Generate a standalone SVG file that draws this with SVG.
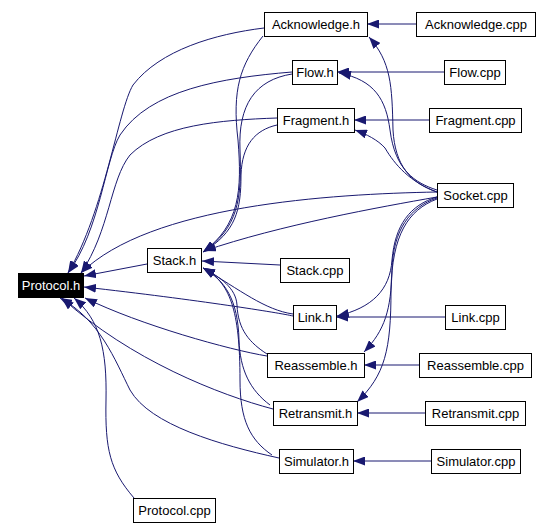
<svg xmlns="http://www.w3.org/2000/svg" width="552" height="528" viewBox="0 0 552 528">
<style>
.n rect{fill:#ffffff;stroke:#000000;stroke-width:1}
.n text{font-family:"Liberation Sans",Arial,sans-serif;font-size:13px;fill:#000000;text-anchor:middle}
#protocol_h rect{fill:#000000}
#protocol_h text{fill:#ffffff}
.e path{fill:none;stroke:#191970;stroke-width:1;marker-end:url(#arr)}
</style>
<defs>
<marker id="arr" markerUnits="userSpaceOnUse" markerWidth="12" markerHeight="9" refX="12" refY="4.5" orient="auto">
<path d="M0,0 L12,4.5 L0,9 z" fill="#191970" stroke="none"/>
</marker>
</defs>
<rect width="552" height="528" fill="#ffffff"/>
<g id="connectors" class="e">
<path d="M416,24 L367,24"/>
<path d="M444,72 L337,72"/>
<path d="M429,120 L354,120"/>
<path d="M445,317 L336,317"/>
<path d="M419,365 L364,365"/>
<path d="M425,413 L357,413"/>
<path d="M431,461 L353,461"/>
<path d="M280,265 L202,261"/>
<path d="M147,264 L84,276"/>
<path d="M264,28 C215,34 160,50 133,85 C118,110 105,210 68,273"/>
<path d="M292,72 C220,78 150,90 120,135 C105,160 100,230 68,273"/>
<path d="M277,118 C220,120 160,125 130,155 C110,180 110,230 81,273"/>
<path d="M437,192 C330,194 150,205 81,273"/>
<path d="M293,316 C280,313 200,300 84,287"/>
<path d="M267,356 C230,350 140,325 85,298"/>
<path d="M273,409 C220,395 130,360 62,298"/>
<path d="M279,458 C220,445 150,425 130,390 C115,360 100,320 60,298"/>
<path d="M134,498 C110,470 105,450 106,400 C107,350 100,320 74,298"/>
<path d="M263,36 C240,65 232,90 238,140 C242,190 240,225 203,252"/>
<path d="M292,74 C255,80 238,105 240,150 C242,200 238,228 203,252"/>
<path d="M277,125 C255,130 242,145 241,175 C241,210 236,232 203,252"/>
<path d="M437,197 C380,207 280,225 204,251"/>
<path d="M293,314 C265,310 240,290 203,268"/>
<path d="M267,354 C250,343 238,330 237,305 C236,288 220,277 203,268"/>
<path d="M270,405 C250,390 240,370 239,340 C238,300 225,280 203,268"/>
<path d="M272,455 C250,440 240,420 240,380 C240,310 230,282 203,268"/>
<path d="M437,192 C410,183 395,165 393,130 C392,85 391,62 369,37"/>
<path d="M437,190 C415,183 395,170 390,130 C386,100 375,80 339,73"/>
<path d="M437,192 C410,182 395,165 385,148 C378,140 366,134 355,130"/>
<path d="M437,197 C410,205 395,225 392,260 C390,290 372,308 337,316"/>
<path d="M437,198 C410,207 393,230 392,270 C391,310 385,330 364,352"/>
<path d="M437,199 C408,210 392,235 391,290 C391,350 385,375 357,402"/>
</g>
<g id="protocol_h" class="n"><rect x="18.5" y="273.5" width="65" height="24"/><text x="51" y="290">Protocol.h</text></g>
<g id="acknowledge_h" class="n"><rect x="264.5" y="12.5" width="103" height="24"/><text x="316" y="29">Acknowledge.h</text></g>
<g id="acknowledge_cpp" class="n"><rect x="416.5" y="12.5" width="119" height="24"/><text x="476" y="29">Acknowledge.cpp</text></g>
<g id="flow_h" class="n"><rect x="292.5" y="60.5" width="45" height="24"/><text x="315" y="77">Flow.h</text></g>
<g id="flow_cpp" class="n"><rect x="444.5" y="60.5" width="61" height="24"/><text x="475" y="77">Flow.cpp</text></g>
<g id="fragment_h" class="n"><rect x="277.5" y="108.5" width="77" height="24"/><text x="316" y="125">Fragment.h</text></g>
<g id="fragment_cpp" class="n"><rect x="429.5" y="108.5" width="92" height="24"/><text x="475.5" y="125">Fragment.cpp</text></g>
<g id="socket_cpp" class="n"><rect x="437.5" y="183.5" width="76" height="24"/><text x="475.5" y="200">Socket.cpp</text></g>
<g id="stack_h" class="n"><rect x="147.5" y="248.5" width="54" height="24"/><text x="174.5" y="265">Stack.h</text></g>
<g id="stack_cpp" class="n"><rect x="280.5" y="258.5" width="69" height="24"/><text x="315" y="275">Stack.cpp</text></g>
<g id="link_h" class="n"><rect x="293.5" y="305.5" width="43" height="24"/><text x="315" y="322">Link.h</text></g>
<g id="link_cpp" class="n"><rect x="445.5" y="305.5" width="60" height="24"/><text x="475.5" y="322">Link.cpp</text></g>
<g id="reassemble_h" class="n"><rect x="267.5" y="353.5" width="97" height="24"/><text x="316" y="370">Reassemble.h</text></g>
<g id="reassemble_cpp" class="n"><rect x="419.5" y="353.5" width="112" height="24"/><text x="475.5" y="370">Reassemble.cpp</text></g>
<g id="retransmit_h" class="n"><rect x="273.5" y="401.5" width="84" height="24"/><text x="315.5" y="418">Retransmit.h</text></g>
<g id="retransmit_cpp" class="n"><rect x="425.5" y="401.5" width="100" height="24"/><text x="475.5" y="418">Retransmit.cpp</text></g>
<g id="simulator_h" class="n"><rect x="279.5" y="449.5" width="74" height="24"/><text x="316.5" y="466">Simulator.h</text></g>
<g id="simulator_cpp" class="n"><rect x="431.5" y="449.5" width="89" height="24"/><text x="476" y="466">Simulator.cpp</text></g>
<g id="protocol_cpp" class="n"><rect x="133.5" y="498.5" width="82" height="24"/><text x="174.5" y="515">Protocol.cpp</text></g>
</svg>
